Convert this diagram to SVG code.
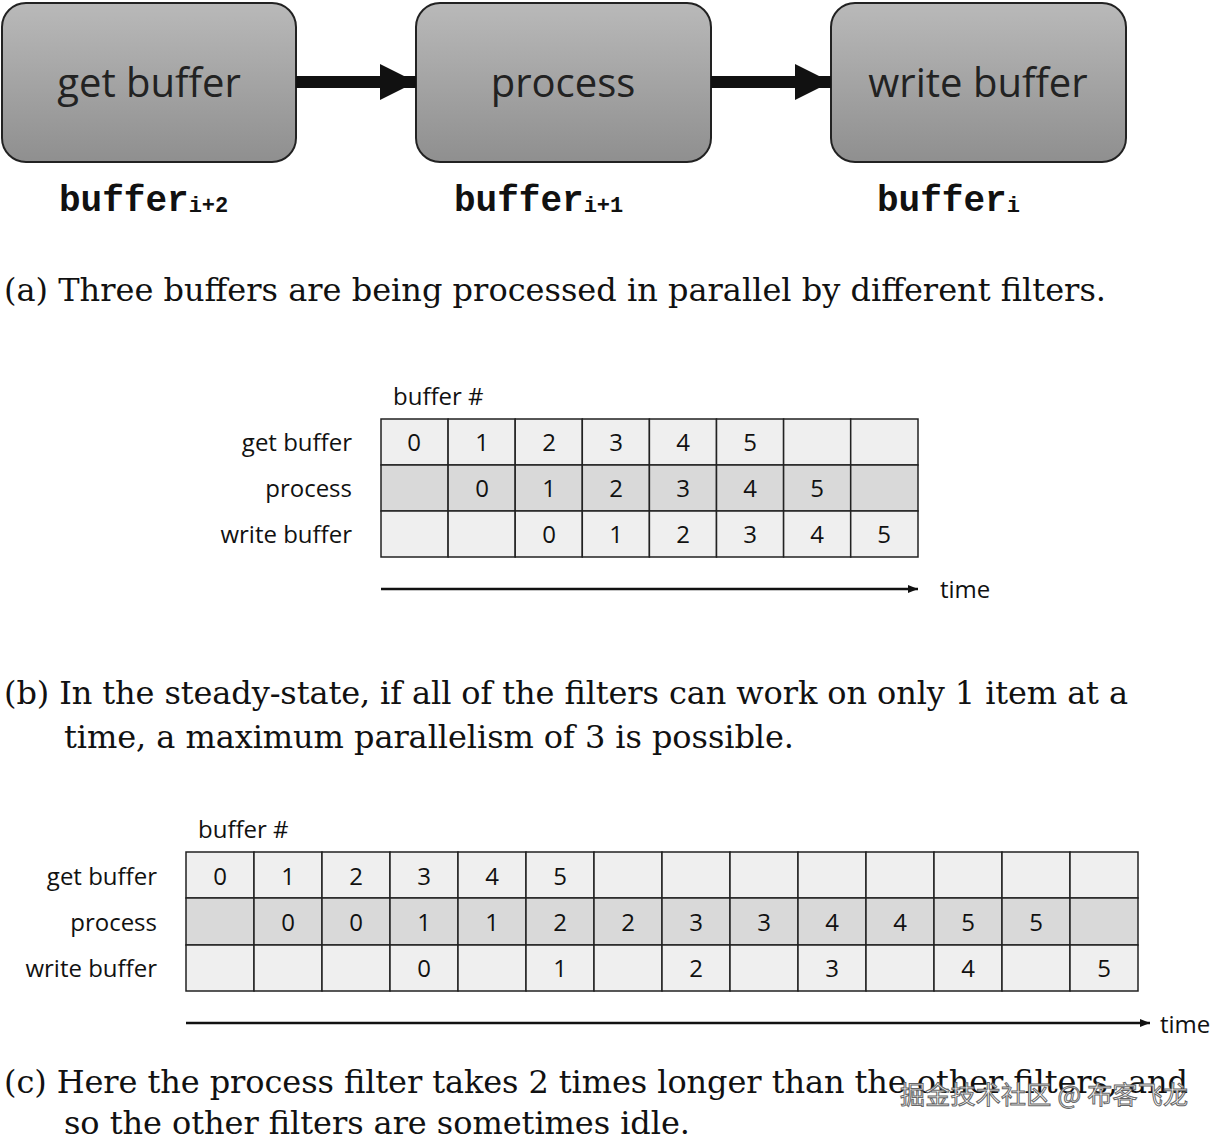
<svg xmlns="http://www.w3.org/2000/svg" width="1214" height="1138" viewBox="0 0 1214 1138">
<defs>
<linearGradient id="g" x1="0" y1="0" x2="0" y2="1"><stop offset="0" stop-color="#b9b9b9"/><stop offset="1" stop-color="#8f8f8f"/></linearGradient>
<marker id="ah" markerWidth="10" markerHeight="8" refX="10" refY="4" orient="auto" markerUnits="userSpaceOnUse"><path d="M0,0 L10,4 L0,8z" fill="#111"/></marker>
<marker id="bh" markerWidth="36" markerHeight="36" refX="36" refY="18" orient="auto" markerUnits="userSpaceOnUse"><path d="M0,0 L36,18 L0,36z" fill="#111"/></marker>
</defs>
<style>
.box{fill:url(#g);stroke:#222;stroke-width:2}
.bt{font-family:"Open Sans","Liberation Sans",sans-serif;font-size:40px;fill:#222;text-anchor:middle}
.mono{font-family:"Liberation Mono",monospace;font-weight:bold;font-size:36px;fill:#111}
.sub{font-size:22px}
.cap{font-family:"DejaVu Serif",serif;font-size:32px;fill:#111}
.lab{font-family:"Open Sans","Liberation Sans",sans-serif;font-size:24px;fill:#111}
.r{text-anchor:end}
.c{text-anchor:middle}
.l{fill:#efefef;stroke:#222;stroke-width:1.5}
.d{fill:#d9d9d9;stroke:#222;stroke-width:1.5}
</style>
<g id="get"><rect class="box" x="2" y="3" width="294" height="159" rx="24"/><text class="bt" x="149" y="97">get buffer</text></g>
<g id="process"><rect class="box" x="416" y="3" width="295" height="159" rx="24"/><text class="bt" x="563" y="97">process</text></g>
<g id="write"><rect class="box" x="831" y="3" width="295" height="159" rx="24"/><text class="bt" x="978" y="97">write buffer</text></g>
<g id="connectors" stroke="#111">
<line x1="296" y1="82" x2="416" y2="82" stroke-width="12" marker-end="url(#bh)"/>
<line x1="711" y1="82" x2="831" y2="82" stroke-width="12" marker-end="url(#bh)"/>
<line x1="381" y1="589" x2="918" y2="589" stroke-width="2.5" marker-end="url(#ah)"/>
<line x1="186" y1="1023" x2="1150" y2="1023" stroke-width="2.5" marker-end="url(#ah)"/>
</g>
<text class="mono" x="59" y="211">buffer<tspan class="sub" dy="1">i+2</tspan></text>
<text class="mono" x="454" y="211">buffer<tspan class="sub" dy="1">i+1</tspan></text>
<text class="mono" x="877" y="211">buffer<tspan class="sub" dy="1">i</tspan></text>
<text class="cap" x="4" y="301" textLength="1102">(a)  Three buffers are being processed in parallel by different filters.</text>

<g id="tableB">
<text class="lab" x="393" y="405">buffer #</text>
<text class="lab r" x="352" y="451">get buffer</text>
<text class="lab r" x="352" y="497">process</text>
<text class="lab r" x="352" y="543">write buffer</text>
<g class="l"><rect x="381" y="419" width="67.1" height="46"/><rect x="448.1" y="419" width="67.1" height="46"/><rect x="515.2" y="419" width="67.1" height="46"/><rect x="582.3" y="419" width="67.1" height="46"/><rect x="649.4" y="419" width="67.1" height="46"/><rect x="716.5" y="419" width="67.1" height="46"/><rect x="783.6" y="419" width="67.1" height="46"/><rect x="850.7" y="419" width="67.3" height="46"/></g>
<g class="d"><rect x="381" y="465" width="67.1" height="46"/><rect x="448.1" y="465" width="67.1" height="46"/><rect x="515.2" y="465" width="67.1" height="46"/><rect x="582.3" y="465" width="67.1" height="46"/><rect x="649.4" y="465" width="67.1" height="46"/><rect x="716.5" y="465" width="67.1" height="46"/><rect x="783.6" y="465" width="67.1" height="46"/><rect x="850.7" y="465" width="67.3" height="46"/></g>
<g class="l"><rect x="381" y="511" width="67.1" height="46"/><rect x="448.1" y="511" width="67.1" height="46"/><rect x="515.2" y="511" width="67.1" height="46"/><rect x="582.3" y="511" width="67.1" height="46"/><rect x="649.4" y="511" width="67.1" height="46"/><rect x="716.5" y="511" width="67.1" height="46"/><rect x="783.6" y="511" width="67.1" height="46"/><rect x="850.7" y="511" width="67.3" height="46"/></g>
<g class="lab c">
<text x="414" y="451">0</text><text x="482" y="451">1</text><text x="549" y="451">2</text><text x="616" y="451">3</text><text x="683" y="451">4</text><text x="750" y="451">5</text>
<text x="482" y="497">0</text><text x="549" y="497">1</text><text x="616" y="497">2</text><text x="683" y="497">3</text><text x="750" y="497">4</text><text x="817" y="497">5</text>
<text x="549" y="543">0</text><text x="616" y="543">1</text><text x="683" y="543">2</text><text x="750" y="543">3</text><text x="817" y="543">4</text><text x="884" y="543">5</text>
</g>
<text class="lab" x="940" y="598">time</text>
</g>
<text class="cap" x="4" y="704" textLength="1124">(b)  In the steady-state, if all of the filters can work on only 1 item at a</text>
<text class="cap" x="64" y="748" textLength="730">time, a maximum parallelism of 3 is possible.</text>

<g id="tableC">
<text class="lab" x="198" y="838">buffer #</text>
<text class="lab r" x="157" y="885">get buffer</text>
<text class="lab r" x="157" y="931">process</text>
<text class="lab r" x="157" y="977">write buffer</text>
<g class="l"><rect x="186" y="852" width="68" height="46"/><rect x="254" y="852" width="68" height="46"/><rect x="322" y="852" width="68" height="46"/><rect x="390" y="852" width="68" height="46"/><rect x="458" y="852" width="68" height="46"/><rect x="526" y="852" width="68" height="46"/><rect x="594" y="852" width="68" height="46"/><rect x="662" y="852" width="68" height="46"/><rect x="730" y="852" width="68" height="46"/><rect x="798" y="852" width="68" height="46"/><rect x="866" y="852" width="68" height="46"/><rect x="934" y="852" width="68" height="46"/><rect x="1002" y="852" width="68" height="46"/><rect x="1070" y="852" width="68" height="46"/></g>
<g class="d"><rect x="186" y="898" width="68" height="47"/><rect x="254" y="898" width="68" height="47"/><rect x="322" y="898" width="68" height="47"/><rect x="390" y="898" width="68" height="47"/><rect x="458" y="898" width="68" height="47"/><rect x="526" y="898" width="68" height="47"/><rect x="594" y="898" width="68" height="47"/><rect x="662" y="898" width="68" height="47"/><rect x="730" y="898" width="68" height="47"/><rect x="798" y="898" width="68" height="47"/><rect x="866" y="898" width="68" height="47"/><rect x="934" y="898" width="68" height="47"/><rect x="1002" y="898" width="68" height="47"/><rect x="1070" y="898" width="68" height="47"/></g>
<g class="l"><rect x="186" y="945" width="68" height="46"/><rect x="254" y="945" width="68" height="46"/><rect x="322" y="945" width="68" height="46"/><rect x="390" y="945" width="68" height="46"/><rect x="458" y="945" width="68" height="46"/><rect x="526" y="945" width="68" height="46"/><rect x="594" y="945" width="68" height="46"/><rect x="662" y="945" width="68" height="46"/><rect x="730" y="945" width="68" height="46"/><rect x="798" y="945" width="68" height="46"/><rect x="866" y="945" width="68" height="46"/><rect x="934" y="945" width="68" height="46"/><rect x="1002" y="945" width="68" height="46"/><rect x="1070" y="945" width="68" height="46"/></g>
<g class="lab c">
<text x="220" y="885">0</text><text x="288" y="885">1</text><text x="356" y="885">2</text><text x="424" y="885">3</text><text x="492" y="885">4</text><text x="560" y="885">5</text>
<text x="288" y="931">0</text><text x="356" y="931">0</text><text x="424" y="931">1</text><text x="492" y="931">1</text><text x="560" y="931">2</text><text x="628" y="931">2</text><text x="696" y="931">3</text><text x="764" y="931">3</text><text x="832" y="931">4</text><text x="900" y="931">4</text><text x="968" y="931">5</text><text x="1036" y="931">5</text>
<text x="424" y="977">0</text><text x="560" y="977">1</text><text x="696" y="977">2</text><text x="832" y="977">3</text><text x="968" y="977">4</text><text x="1104" y="977">5</text>
</g>
<text class="lab" x="1160" y="1033">time</text>
</g>
<text class="cap" x="4" y="1093" textLength="1184">(c)  Here the process filter takes 2 times longer than the other filters, and</text>
<text class="cap" x="64" y="1134" textLength="626">so the other filters are sometimes idle.</text>
<text x="900" y="1104" textLength="288" font-family="'Noto Sans CJK SC',sans-serif" font-size="25" fill="#fff" stroke="#666" stroke-width="1">掘金技术社区 @ 布客飞龙</text>
</svg>
